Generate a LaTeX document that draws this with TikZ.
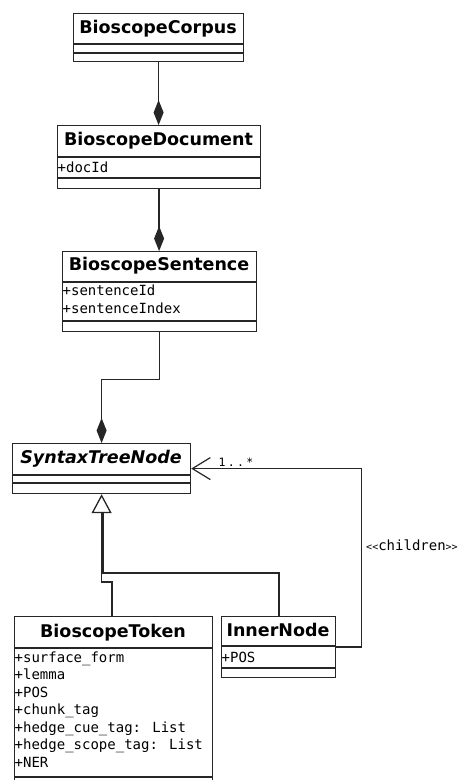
\documentclass[tikz,border=0pt]{standalone}
\usepackage{fontspec}
\setmainfont{DejaVu Sans}
\newfontfamily\umlmono{DejaVu Sans Mono}
\usetikzlibrary{arrows.meta,calc}
\begin{document}
\begin{tikzpicture}[x=1pt,y=-1pt,
  box/.style={draw=black!85, line width=1.2pt, fill=white, inner sep=0pt, anchor=north west},
  sep/.style={draw=black!85, line width=1.2pt},
  ttl/.style={anchor=base, inner sep=0pt, font=\fontsize{17.5}{20}\selectfont\bfseries},
  attr/.style={anchor=base west, inner sep=0pt, font=\fontsize{14}{17.5}\selectfont\umlmono},
  conn/.style={draw=black!85, line width=1.3pt},
  comp/.style={-{Diamond[length=25pt,width=10pt]}},
  gen/.style={-{Triangle[open,length=19pt,width=20pt,fill=white]}},
  nav/.style={-{Straight Barb[length=18pt,width=22pt,line width=1.2pt]}},
]
\useasboundingbox (0,0) rectangle (462,780);

% BioscopeCorpus
\node[box, minimum width=170pt, minimum height=48pt] (corpus) at (73,13) {};
\draw[sep] (73,44) -- (243,44);
\draw[sep] (73,53) -- (243,53);
\node[ttl] (corpusT) at (158,33) {BioscopeCorpus};

% BioscopeDocument
\node[box, minimum width=203pt, minimum height=63pt] (document) at (57,125) {};
\draw[sep] (57,157) -- (260,157);
\draw[sep] (57,178) -- (260,178);
\node[ttl] (documentT) at (158.5,145) {BioscopeDocument};
\node[attr] (docid) at (57.5,172) {+docId};

% BioscopeSentence
\node[box, minimum width=194pt, minimum height=80pt] (sentence) at (62,251) {};
\draw[sep] (62,282) -- (256,282);
\draw[sep] (62,321) -- (256,321);
\node[ttl] (sentenceT) at (159,270) {BioscopeSentence};
\node[attr] (sid) at (62.5,295) {+sentenceId};
\node[attr] (sidx) at (62.5,313) {+sentenceIndex};

% SyntaxTreeNode
\node[box, minimum width=178pt, minimum height=50pt] (stn) at (12,443) {};
\draw[sep] (12,475) -- (190,475);
\draw[sep] (12,483) -- (190,483);
\node[ttl, font=\fontsize{17.5}{20}\selectfont\bfseries\itshape] (stnT) at (101,463) {SyntaxTreeNode};

% BioscopeToken
\node[box, minimum width=198pt, minimum height=174pt] (token) at (14,616) {};
\draw[sep] (14,648) -- (212,648);
\draw[sep] (14,777) -- (212,777);
\node[ttl] (tokenT) at (113,637) {BioscopeToken};
\foreach \t [count=\i] in {+surface\_form,+lemma,+POS,+chunk\_tag,+hedge\_cue\_tag: List,+hedge\_scope\_tag: List,+NER}
  \node[attr] (tokattr\i) at (14.5,{662+17.5*(\i-1)}) {\t};

% InnerNode
\node[box, minimum width=114pt, minimum height=61pt] (inner) at (221,616) {};
\draw[sep] (221,646) -- (335,646);
\draw[sep] (221,668) -- (335,668);
\node[ttl] (innerT) at (278,636) {InnerNode};
\node[attr] (ipos) at (221.5,662) {+POS};

% Compositions
\draw[conn,comp] (corpus.south) -- (corpus.south |- document.north);
\draw[conn,comp] (document.south) -- (document.south |- sentence.north);
\draw[conn,comp] (sentence.south) -- ++(0,47) -| (stn.north);

% Generalizations
\draw[conn] ([xshift=58pt]inner.north west) -- ++(0,-43) -| ($(stn.south)+(1.5,19)$);
\draw[conn,gen] ([xshift=98pt]token.north west) -- ++(0,-34) -| (stn.south);

% children association
\draw[conn,nav] (inner.east) -- ++(25,0) |- (stn.east);
\node[anchor=base, inner sep=0pt, font=\fontsize{11.5}{13}\selectfont\umlmono\addfontfeature{LetterSpace=20}] (mult) at (236,466) {1..*};
\node[anchor=base, inner sep=0pt, font=\fontsize{14}{17}\selectfont\umlmono] (stereo) at (412,550) {{\fontsize{10}{12}\selectfont<<}children{\fontsize{10}{12}\selectfont>>}};
\end{tikzpicture}
\end{document}
